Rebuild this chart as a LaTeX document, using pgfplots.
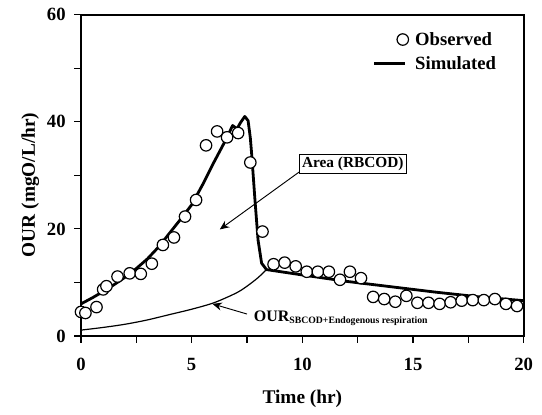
\documentclass[border=0pt]{standalone}
\usepackage{fontspec}
\setmainfont{Liberation Serif}
\usepackage{pgfplots}
\pgfplotsset{compat=1.18}
\usetikzlibrary{arrows.meta}

\begin{document}
\begin{tikzpicture}
\begin{axis}[
  scale only axis, width=332pt, height=241pt,
  xmin=0, xmax=20, ymin=0, ymax=60,
  xtick={0,5,10,15,20}, ytick={0,20,40,60},
  minor x tick num=1, minor y tick num=1,
  tick pos=left, tick align=outside,
  major tick length=5pt, minor tick length=5pt,
  axis line style={line width=1.3pt},
  every tick/.style={black, line width=0.8pt},
  /pgf/number format/assume math mode=true,
  ticklabel style={font=\fontsize{14}{16}\selectfont\bfseries},
  xticklabel shift=8pt, yticklabel shift=3pt,
  xlabel={Time (hr)}, ylabel={OUR (mgO/L/hr)},
  label style={font=\fontsize{14.5}{16}\selectfont\bfseries},
  xlabel style={at={(rel axis cs:0.5,0)}, anchor=center, yshift=-47pt},
  ylabel style={at={(rel axis cs:0,0.47)}, anchor=center, yshift=38pt},
  legend style={at={(axis cs:13.0,57.8)}, anchor=north west, draw=none, fill=none,
    font=\fontsize{14}{16}\selectfont\bfseries, row sep=3pt,
    legend cell align=left,
    /tikz/every odd column/.append style={column sep=3pt}},
  reverse legend,
  clip=false,
]
% simulated OUR
\addplot[black, line width=2.1pt, line join=round,
  legend image code/.code={\draw[line width=2pt] (-0.45cm,0cm) -- (0.35cm,0cm);}]
  coordinates {
  (0,6.0) (0.5,7.1) (1,8.3) (1.5,9.6) (2,11.0) (2.5,12.6) (3,14.4) (3.5,16.6)
  (4,19.2) (4.5,21.8) (5,24.5) (5.5,28.3) (6,32.4) (6.5,36.3) (6.85,39.3)
  (7.05,38.7) (7.2,39.8) (7.4,41.0) (7.55,40.2) (7.65,37.0) (7.72,33.5)
  (7.86,25.4) (8.0,17.9) (8.16,13.6) (8.38,12.4)
  (10,11.4) (12,10.2) (14,9.2) (16,8.2) (18,7.3) (20,6.6)};
% SBCOD + endogenous respiration
\addplot[black, line width=0.9pt, smooth, forget plot] coordinates {
  (0,1.1) (1,1.6) (2,2.2) (3,3.0) (4,4.0) (5,5.0) (6,6.2) (7,8.0) (7.5,9.3)
  (8,10.9) (8.38,12.4)};
% observed
\addplot[only marks, mark=*, mark size=4.3pt, black,
  mark options={fill=white, line width=0.9pt}] coordinates {
  (0.0,4.5) (0.2,4.3) (0.7,5.4) (1.0,8.7) (1.15,9.3) (1.65,11.1) (2.2,11.7)
  (2.7,11.6) (3.2,13.5) (3.7,17.0) (4.2,18.4) (4.7,22.3) (5.2,25.4) (5.65,35.6)
  (6.15,38.2) (6.6,37.1) (7.1,37.9) (7.65,32.4) (8.2,19.5) (8.7,13.4) (9.2,13.7)
  (9.7,13.0) (10.2,12.0) (10.7,12.0) (11.2,12.0) (11.7,10.5) (12.15,12.0)
  (12.65,10.8) (13.2,7.3) (13.7,6.9) (14.2,6.4) (14.7,7.5) (15.2,6.2) (15.7,6.2)
  (16.2,6.0) (16.7,6.3) (17.2,6.6) (17.7,6.7) (18.2,6.7) (18.7,6.9) (19.2,6.0)
  (19.7,5.6)};
\legend{Simulated, Observed}

\draw[line width=0.7pt, -{Stealth[length=7pt, width=6pt]}]
  (axis cs:9.85,30.6) -- (axis cs:6.27,19.9);
\node[draw, line width=0.6pt, fill=white, inner sep=2pt, anchor=west,
  font=\fontsize{11.5}{13}\selectfont\bfseries] at (axis cs:9.85,32.1) {Area (RBCOD)};

\draw[line width=0.7pt, -{Stealth[length=7pt, width=6pt]}]
  (axis cs:7.5,4.1) -- (axis cs:5.94,6.0);
\node[anchor=base west, inner sep=0pt, font=\bfseries] at (axis cs:7.8,2.7)
  {{\fontsize{12}{14}\selectfont OUR}\raisebox{-1.5pt}{\fontsize{7.3}{8}\selectfont SBCOD+Endogenous respiration}};
\end{axis}
\pgfresetboundingbox
\path (-60.75pt,-58.5pt) rectangle (345.75pt,252pt);
\end{tikzpicture}
\end{document}
